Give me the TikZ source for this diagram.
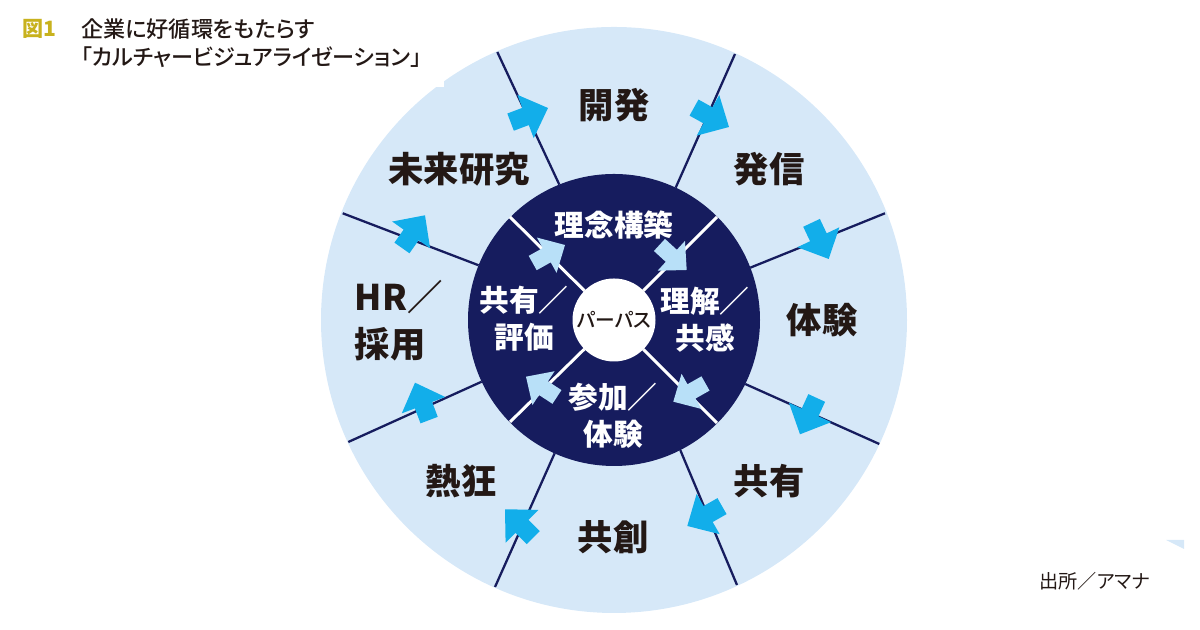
\documentclass[tikz,border=0pt]{standalone}
\usepackage{fontspec}
\usetikzlibrary{shapes.arrows}
\newfontfamily\cjk[RawFeature=+palt]{Noto Sans CJK JP}
\newfontfamily\cjkm[RawFeature=+palt]{Noto Sans CJK JP Medium}
\definecolor{disc}{HTML}{D6E8F8}
\definecolor{navy}{HTML}{161C5E}
\definecolor{cyanflow}{HTML}{12AEEA}
\definecolor{paleflow}{HTML}{B8E0F8}
\definecolor{olive}{HTML}{C8B21E}
\definecolor{ink}{HTML}{231815}
\newcommand\Outerflow[4]{
  \node[outerflow,rotate=#4,anchor=tip] (#1) at (#2,#3) {};
}
\newcommand\Innerflow[4]{
  \node[innerflow,rotate=#4,anchor=tip] (#1) at (#2,#3) {};
}
\tikzstyle{round}=[circle,inner sep=0,outer sep=0]
\tikzstyle{outerflow}=[single arrow,fill=cyanflow,inner xsep=0,inner ysep=0.085cm,outer sep=0,minimum height=0.40cm,minimum width=0.45cm,single arrow head extend=0.14cm,single arrow tip angle=88]
\tikzstyle{innerflow}=[single arrow,fill=paleflow,inner xsep=0,inner ysep=0.075cm,outer sep=0,minimum height=0.37cm,minimum width=0.39cm,single arrow head extend=0.12cm,single arrow tip angle=88]
\tikzstyle{rimline}=[navy,line width=0.65pt]
\tikzstyle{hubline}=[white,line width=0.85pt]
\tikzstyle{stage}=[text=ink,inner sep=0,font=\cjk\bfseries\fontsize{10.05pt}{13.4pt}\selectfont]
\tikzstyle{core}=[text=white,inner sep=0,align=center,font=\cjk\bfseries\fontsize{8.45pt}{10.5pt}\selectfont]

\begin{document}
\begin{tikzpicture}
  \useasboundingbox (0,0) rectangle (12,6.3);
  \node[round,fill=disc,minimum size=5.86cm] (rim) at (6.14,3.10) {};
  \fill[white] (4.30,5.43) rectangle (4.44,5.60);
  \fill[disc] (11.66,0.90) -- (11.84,0.90) -- (11.84,0.81) -- cycle;
  \node[round,fill=navy,minimum size=2.92cm] (corecircle) at (6.14,3.10) {};
  \node[round,fill=white,minimum size=0.83cm,text=ink,font=\cjkm\fontsize{5.6pt}{7pt}\selectfont] (hub) at (6.14,3.10) {パーパス};

  \coordinate (rimA) at (4.973,5.78);
  \coordinate (rimB) at (7.35,5.76);
  \coordinate (rimC) at (8.85,4.167);
  \coordinate (rimD) at (8.793,1.86);
  \coordinate (rimE) at (7.37,0.45);
  \coordinate (rimF) at (4.95,0.43);
  \coordinate (rimG) at (3.483,1.88);
  \coordinate (rimH) at (3.427,4.167);
  \draw[rimline] (rimA) -- (corecircle.112.4);
  \draw[rimline] (rimB) -- (corecircle.65.4);
  \draw[rimline] (rimC) -- (corecircle.21.2);
  \draw[rimline] (rimD) -- (corecircle.-26.1);
  \draw[rimline] (rimE) -- (corecircle.-63.8);
  \draw[rimline] (rimF) -- (corecircle.246.3);
  \draw[rimline] (rimG) -- (corecircle.205.8);
  \draw[rimline] (rimH) -- (corecircle.158.8);

  \coordinate (coreA) at (5.10,4.13);
  \coordinate (coreB) at (7.17,4.13);
  \coordinate (coreC) at (7.17,2.07);
  \coordinate (coreD) at (5.10,2.08);
  \draw[hubline] (coreA) -- (hub);
  \draw[hubline] (coreB) -- (hub);
  \draw[hubline] (coreC) -- (hub);
  \draw[hubline] (coreD) -- (hub);

  \Outerflow{flowA}{5.48}{5.22}{20.7}
  \Outerflow{flowB}{7.29}{5.03}{-29}
  \Outerflow{flowC}{8.287}{3.71}{-64.6}
  \Outerflow{flowD}{8.00}{1.957}{245.3}
  \Outerflow{flowE}{6.873}{1.04}{209.8}
  \Outerflow{flowF}{5.05}{1.207}{135}
  \Outerflow{flowG}{4.15}{2.473}{110.7}
  \Outerflow{flowH}{4.25}{4.147}{54.8}
  \Innerflow{stepA}{5.65}{3.85}{29.2}
  \Innerflow{stepB}{6.867}{3.60}{-42.6}
  \Innerflow{stepC}{6.733}{2.283}{209.5}
  \Innerflow{stepD}{5.26}{2.533}{146.8}

  \node[stage] (kaihatsu) at (6.14,5.25) {開発};
  \node[stage] (hasshin) at (7.69,4.61) {発信};
  \node[stage] (taiken) at (8.22,3.10) {体験};
  \node[stage] (kyoyu) at (7.69,1.49) {共有};
  \node[stage] (kyoso) at (6.13,0.93) {共創};
  \node[stage] (nekkyo) at (4.61,1.49) {熱狂};
  \node[stage,anchor=west,align=left] (saiyo) at (3.54,3.095) {HR／\\採用};
  \node[stage] (mirai) at (4.59,4.61) {未来研究};

  \node[core] (rinen) at (6.14,4.05) {理念構築};
  \node[core] (rikai) at (7.05,3.10) {理解／\\共感};
  \node[core] (sanka) at (6.13,2.14) {参加／\\体験};
  \node[core] (hyoka) at (5.24,3.115) {共有／\\評価};

  \node[anchor=west,inner sep=0,text=olive,font=\cjk\bfseries\fontsize{6pt}{8pt}\selectfont] (zu) at (0.22,6.01) {図1};
  \node[anchor=west,inner sep=0,align=left,text=ink,font=\cjkm\fontsize{6.3pt}{8pt}\selectfont] (title) at (0.805,5.87) {企業に好循環をもたらす\\「カルチャービジュアライゼーション」};
  \node[anchor=west,inner sep=0,text=ink,font=\cjk\fontsize{5.45pt}{7pt}\selectfont] (source) at (10.385,0.49) {出所／アマナ};
\end{tikzpicture}
\end{document}
